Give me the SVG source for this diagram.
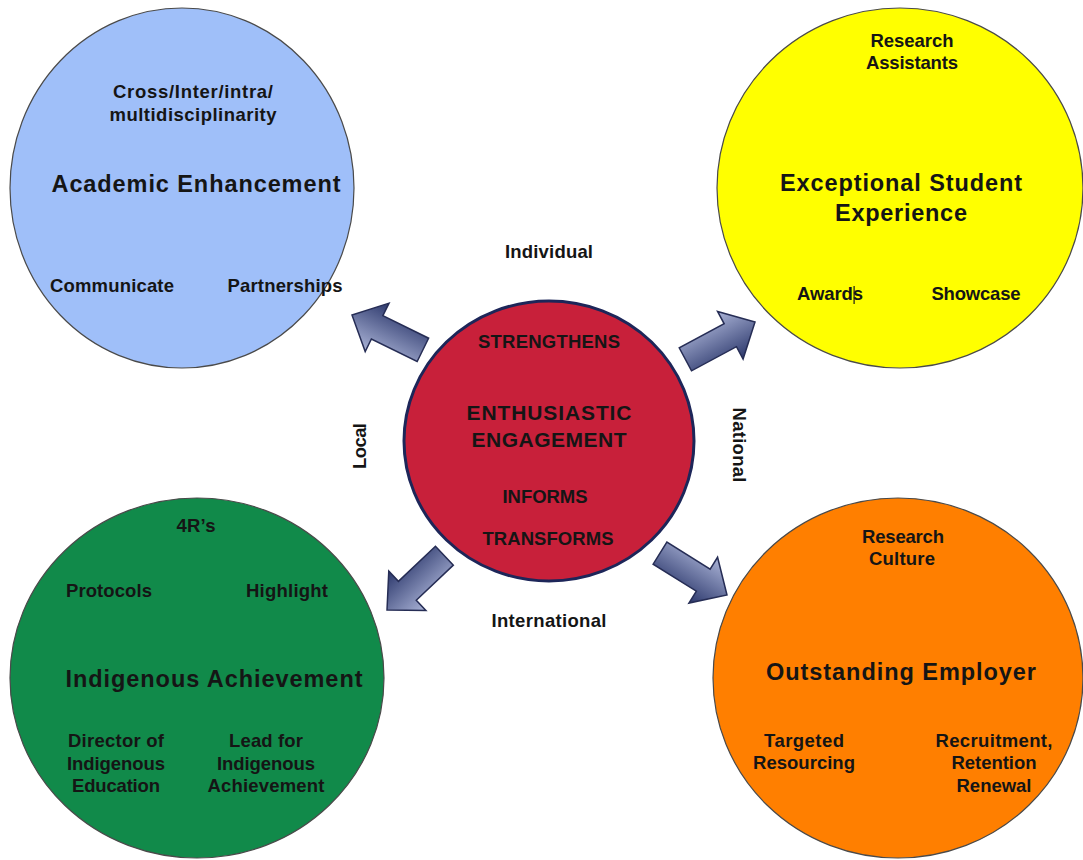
<svg xmlns="http://www.w3.org/2000/svg" xmlns:xlink="http://www.w3.org/1999/xlink" width="1083" height="860" viewBox="0 0 1083 860">
<style>
  .t { font-family: "Liberation Sans", Arial, sans-serif; font-weight: bold; fill: #151515; text-anchor: middle; }
  .s { font-size: 18.5px; }
  .h { font-size: 23.5px; }
  .c { font-size: 21px; }
  .ring { stroke: #4a4a4a; stroke-width: 1.2; }
  .arrow { fill: url(#ag); stroke: #262d55; stroke-width: 1.5; stroke-linejoin: miter; }
</style>
<defs>
  <linearGradient id="ag" x1="0" y1="0" x2="0" y2="1">
    <stop offset="0" stop-color="#aab3d6"/>
    <stop offset="1" stop-color="#2c386c"/>
  </linearGradient>
  <polygon id="arr" points="0,0 -28,-27 -28,-13 -79,-13 -79,13 -28,13 -28,27"/>
</defs>
<rect width="1083" height="860" fill="#ffffff"/>

<g id="academic-enhancement">
  <ellipse class="ring" cx="182" cy="188" rx="172" ry="180" fill="#9fbff9"/>
  <text class="t s" x="193" y="98" textLength="160" lengthAdjust="spacing">Cross/Inter/intra/</text>
  <text class="t s" x="193" y="121" textLength="167" lengthAdjust="spacing">multidisciplinarity</text>
  <text class="t h" x="196" y="192" textLength="289" lengthAdjust="spacing">Academic Enhancement</text>
  <text class="t s" x="112" y="292" textLength="124" lengthAdjust="spacing">Communicate</text>
  <text class="t s" x="285" y="292" textLength="115" lengthAdjust="spacing">Partnerships</text>
</g>

<g id="exceptional-student-experience">
  <ellipse class="ring" cx="900" cy="188" rx="183" ry="180" fill="#ffff00"/>
  <text class="t s" x="912" y="47" textLength="83" lengthAdjust="spacing">Research</text>
  <text class="t s" x="912" y="69" textLength="92" lengthAdjust="spacing">Assistants</text>
  <text class="t h" x="901" y="191" textLength="242" lengthAdjust="spacing">Exceptional Student</text>
  <text class="t h" x="901" y="221" textLength="132" lengthAdjust="spacing">Experience</text>
  <text class="t s" x="830" y="300" textLength="66" lengthAdjust="spacing">Awards</text>
  <rect x="853.5" y="286" width="1.2" height="18" fill="#1a1a1a"/>
  <text class="t s" x="976" y="300" textLength="89" lengthAdjust="spacing">Showcase</text>
</g>

<g id="indigenous-achievement">
  <ellipse class="ring" cx="197" cy="678" rx="187" ry="180" fill="#118a4a"/>
  <text class="t s" x="196" y="532" textLength="39" lengthAdjust="spacing">4R’s</text>
  <text class="t s" x="109" y="597" textLength="86" lengthAdjust="spacing">Protocols</text>
  <text class="t s" x="287" y="597" textLength="82" lengthAdjust="spacing">Highlight</text>
  <text class="t h" x="214" y="687" textLength="297" lengthAdjust="spacing">Indigenous Achievement</text>
  <text class="t s" x="116" y="747" textLength="96" lengthAdjust="spacing">Director of</text>
  <text class="t s" x="116" y="770" textLength="98" lengthAdjust="spacing">Indigenous</text>
  <text class="t s" x="116" y="792" textLength="88" lengthAdjust="spacing">Education</text>
  <text class="t s" x="266" y="747" textLength="74" lengthAdjust="spacing">Lead for</text>
  <text class="t s" x="266" y="770" textLength="98" lengthAdjust="spacing">Indigenous</text>
  <text class="t s" x="266" y="792" textLength="117" lengthAdjust="spacing">Achievement</text>
</g>

<g id="outstanding-employer">
  <ellipse class="ring" cx="898" cy="678" rx="185" ry="180" fill="#ff7f00"/>
  <text class="t s" x="903" y="543" textLength="82" lengthAdjust="spacing">Research</text>
  <text class="t s" x="902" y="565" textLength="66" lengthAdjust="spacing">Culture</text>
  <text class="t h" x="901" y="680" textLength="270" lengthAdjust="spacing">Outstanding Employer</text>
  <text class="t s" x="804" y="747" textLength="80" lengthAdjust="spacing">Targeted</text>
  <text class="t s" x="804" y="769" textLength="102" lengthAdjust="spacing">Resourcing</text>
  <text class="t s" x="994" y="747" textLength="117" lengthAdjust="spacing">Recruitment,</text>
  <text class="t s" x="994" y="769" textLength="85" lengthAdjust="spacing">Retention</text>
  <text class="t s" x="994" y="792" textLength="75" lengthAdjust="spacing">Renewal</text>
</g>

<g id="connectors">
  <use xlink:href="#arr" class="arrow" transform="translate(352,315) rotate(206.2)"/>
  <use xlink:href="#arr" class="arrow" transform="translate(755,322) rotate(-28.2)"/>
  <use xlink:href="#arr" class="arrow" transform="translate(387,610) rotate(136.6)"/>
  <use xlink:href="#arr" class="arrow" transform="translate(727,595) rotate(32)"/>
</g>

<g id="enthusiastic-engagement">
  <ellipse cx="549" cy="441" rx="145" ry="140" fill="#c8203a" stroke="#1d2659" stroke-width="3"/>
  <text class="t s" x="549" y="348" textLength="142" lengthAdjust="spacing">STRENGTHENS</text>
  <text class="t c" x="549" y="420" textLength="165" lengthAdjust="spacing">ENTHUSIASTIC</text>
  <text class="t c" x="549" y="447" textLength="155" lengthAdjust="spacing">ENGAGEMENT</text>
  <text class="t s" x="545" y="503" textLength="85" lengthAdjust="spacing">INFORMS</text>
  <text class="t s" x="548" y="545" textLength="131" lengthAdjust="spacing">TRANSFORMS</text>
</g>

<g id="scope-labels">
  <text class="t s" x="549" y="258" textLength="88" lengthAdjust="spacing">Individual</text>
  <text class="t s" x="549" y="627" textLength="115" lengthAdjust="spacing">International</text>
  <text class="t s" transform="translate(366,446) rotate(-90)" x="0" y="0" textLength="46" lengthAdjust="spacing">Local</text>
  <text class="t s" transform="translate(733,445) rotate(90)" x="0" y="0" textLength="75" lengthAdjust="spacing">National</text>
</g>
</svg>
